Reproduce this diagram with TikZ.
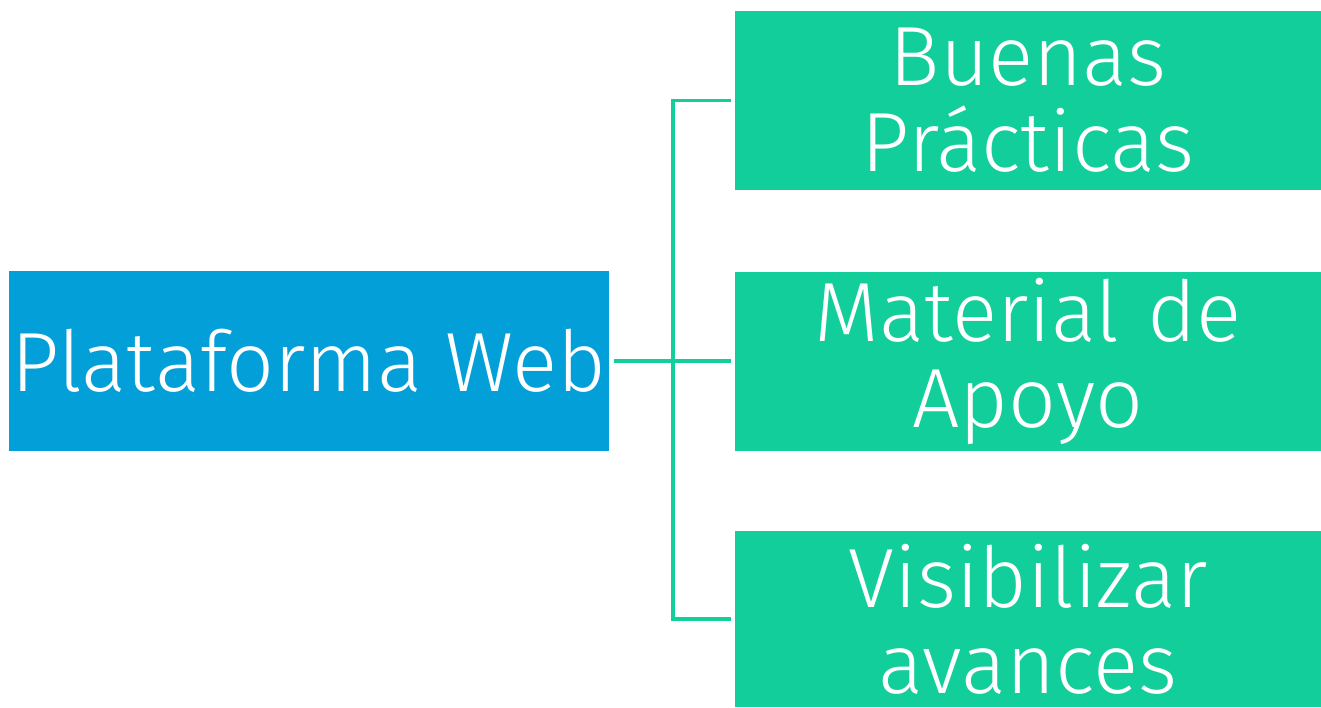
\documentclass[tikz,border=0pt]{standalone}
\usepackage{fontspec}
\setmainfont{Fira Sans}[UprightFont=* Light]
\definecolor{bluebox}{HTML}{039FD9}
\definecolor{greenbox}{HTML}{12CE9A}
\begin{document}
\begin{tikzpicture}[x=1pt,y=-1pt,
  boxbase/.style={inner sep=0pt, text=white, align=center,
    font=\fontsize{84}{86}\selectfont},
  mainbox/.style={boxbase, fill=bluebox, minimum width=600pt, minimum height=180pt},
  subbox/.style={boxbase, fill=greenbox, minimum width=586pt, minimum height=179pt, text width=586pt},
  conn/.style={draw=greenbox, line width=3.5pt}]
\useasboundingbox (0,0) rectangle (1321,707);
\node[mainbox] (main) at (309,361) {Plataforma Web};
\node[subbox] (b1) at (1028,100.5) {Buenas\\Prácticas};
\node[subbox] (b2) at (1028,361) {Material de\\Apoyo};
\node[subbox, minimum height=176pt] (b3) at (1028,619) {Visibilizar\\avances};
\coordinate (j) at (673,361);
\draw[conn, shorten <=5pt, shorten >=4pt] (main.east) -- (b2.west);
\draw[conn, shorten >=4pt] (b1.west -| j) -- (b1.west);
\draw[conn, shorten >=4pt] (b3.west -| j) -- (b3.west);
\draw[conn, line cap=rect] (b1.west -| j) -- (b3.west -| j);
\end{tikzpicture}
\end{document}
